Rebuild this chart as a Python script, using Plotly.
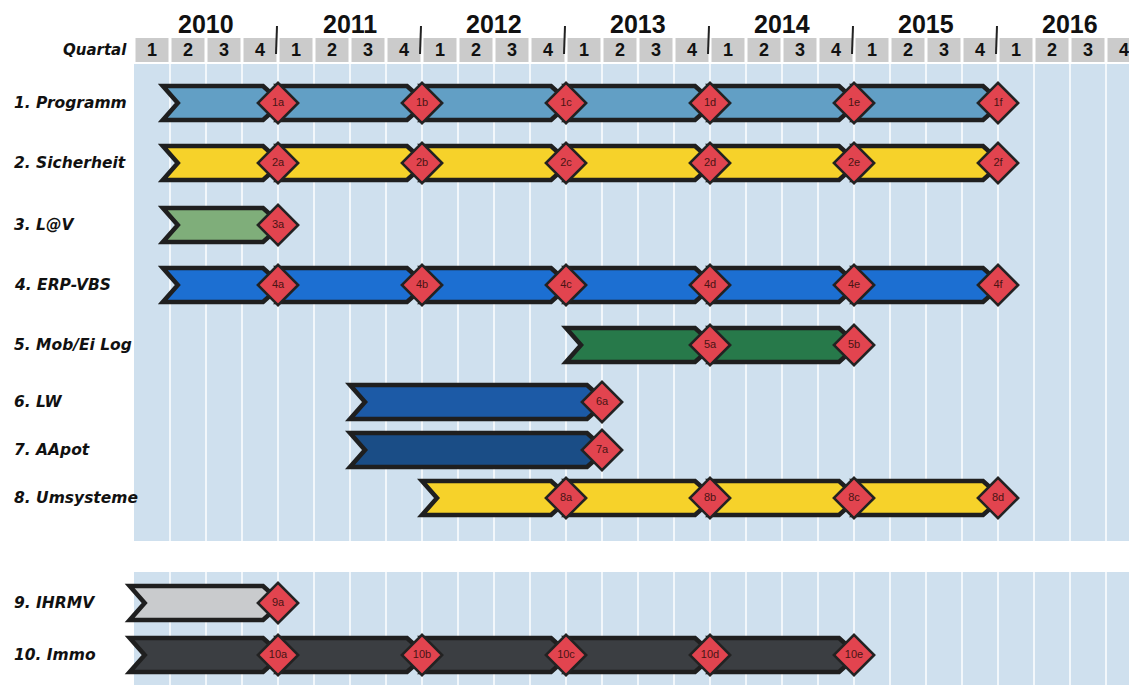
import plotly.graph_objects as go

# ---------------- data ----------------
rows = ["1. Programm", "2. Sicherheit", "3. L@V", "4. ERP-VBS", "5. Mob/Ei Log",
        "6. LW", "7. AApot", "8. Umsysteme", "9. IHRMV", "10. Immo"]
row_colors = ["#629fc5", "#f6d22a", "#7fae7a", "#1c6fd2", "#27794a",
              "#1c5aa6", "#1a4d86", "#f6d22a", "#c9cbcd", "#3b3e42"]
starts = [2010.2, 2010.2, 2010.2, 2010.2, 2013.0, 2011.5, 2011.5, 2012.0, 2009.97, 2009.97]
milestones = [
    [2011, 2012, 2013, 2014, 2015, 2016],
    [2011, 2012, 2013, 2014, 2015, 2016],
    [2011],
    [2011, 2012, 2013, 2014, 2015, 2016],
    [2014, 2015],
    [2013.25],
    [2013.25],
    [2013, 2014, 2015, 2016],
    [2011],
    [2011, 2012, 2013, 2014, 2015],
]
milestone_labels = [
    ["1a", "1b", "1c", "1d", "1e", "1f"],
    ["2a", "2b", "2c", "2d", "2e", "2f"],
    ["3a"],
    ["4a", "4b", "4c", "4d", "4e", "4f"],
    ["5a", "5b"],
    ["6a"],
    ["7a"],
    ["8a", "8b", "8c", "8d"],
    ["9a"],
    ["10a", "10b", "10c", "10d", "10e"],
]
years = [2010, 2011, 2012, 2013, 2014, 2015, 2016]
quarter_labels = ["1", "2", "3", "4"]

# ---------------- layout constants ----------------
W, H = 1137, 685
PAGE_OFF = 8          # default body margin of the html page
X0_PX = 134           # page pixel of 2010-01
PX_PER_YEAR = 144
row_y = [103, 163, 225, 285, 345, 402, 450, 498, 603, 655]
blocks = [(64, 541), (572, 700)]
header = (38, 62)


def px(n):
    return n / PX_PER_YEAR


x_min = years[0] - (X0_PX - PAGE_OFF) / PX_PER_YEAR
x_max = x_min + W / PX_PER_YEAR
grid_end = years[-1] + 1.2

shapes = []
# panels
for (y0, y1) in blocks:
    shapes.append(dict(type="rect", xref="x", yref="y", x0=years[0], x1=grid_end,
                       y0=y0, y1=y1, fillcolor="#cfe0ee", line=dict(width=0), layer="below"))
    for i in range(1, len(years) * 4 + 1):
        xq = years[0] + i / 4
        shapes.append(dict(type="line", xref="x", yref="y", x0=xq, x1=xq, y0=y0, y1=y1,
                           line=dict(color="#f2f7fb", width=2), layer="below"))
# header cells
for y in years:
    for q in range(4):
        shapes.append(dict(type="rect", xref="x", yref="y",
                           x0=y + q / 4 + px(1.5), x1=y + (q + 1) / 4 - px(1.5),
                           y0=header[0], y1=header[1], fillcolor="#cbcbcb",
                           line=dict(width=0), layer="below"))
# year separators
for y in years[1:]:
    shapes.append(dict(type="line", xref="x", yref="y", x0=y - px(1), x1=y - px(2),
                       y0=26, y1=54, line=dict(color="#222222", width=2), layer="below"))

# bars (chevron segments)
half_h = 17
d = px(15)
for i, name in enumerate(rows):
    yc = row_y[i]
    yt, yb = yc - half_h, yc + half_h
    pts = [starts[i]] + milestones[i]
    for s in range(len(pts) - 1):
        xa, xb = pts[s], pts[s + 1]
        path = (f"M {xa},{yt} L {xb - d},{yt} L {xb + px(4)},{yc} L {xb - d},{yb} "
                f"L {xa},{yb} L {xa + d},{yc} Z")
        shapes.append(dict(type="path", xref="x", yref="y", path=path,
                           fillcolor=row_colors[i],
                           line=dict(color="#1f1f1f", width=4.5), layer="below"))

fig = go.Figure()

# milestone diamonds
mx, my, mt = [], [], []
for i in range(len(rows)):
    for xv, lab in zip(milestones[i], milestone_labels[i]):
        mx.append(xv)
        my.append(row_y[i])
        mt.append(lab)
fig.add_trace(go.Scatter(
    x=mx, y=my, text=mt, mode="markers+text", textposition="middle center",
    marker=dict(symbol="diamond", size=31, color="#e2444f",
                line=dict(color="#222222", width=2.5)),
    textfont=dict(family="Liberation Sans", size=11, color="#4a1414"),
    hoverinfo="skip", showlegend=False, cliponaxis=False))

annotations = []
# year labels
for y in years:
    annotations.append(dict(x=y + 0.5, y=PAGE_OFF, xref="x", yref="y", yanchor="top",
                            text=f"<b>{y}</b>", showarrow=False,
                            font=dict(family="Liberation Sans", size=25, color="#111111")))
    for q, ql in enumerate(quarter_labels):
        annotations.append(dict(x=y + (q + 0.5) / 4, y=50, xref="x", yref="y", text=f"<b>{ql}</b>",
                                showarrow=False, font=dict(family="Liberation Sans", size=18, color="#111111")))
annotations.append(dict(x=years[0] - px(5), y=50, xref="x", yref="y", xanchor="right",
                        text="<b><i>Quartal</i></b>", showarrow=False,
                        font=dict(family="DejaVu Sans", size=15, color="#111111")))
# row labels
for i, name in enumerate(rows):
    annotations.append(dict(x=(12 - PAGE_OFF) / W, y=row_y[i], xref="paper", yref="y", xanchor="left",
                            text=f"<b><i>{name}</i></b>", showarrow=False,
                            font=dict(family="DejaVu Sans", size=15.5, color="#111111")))

fig.update_layout(
    width=W, height=H,
    margin=dict(l=0, r=0, t=0, b=0),
    paper_bgcolor="white", plot_bgcolor="white",
    xaxis=dict(range=[x_min, x_max], visible=False, fixedrange=True),
    yaxis=dict(range=[H + PAGE_OFF, PAGE_OFF], visible=False, fixedrange=True),
    shapes=shapes, annotations=annotations,
)

fig.write_html("out.html")
